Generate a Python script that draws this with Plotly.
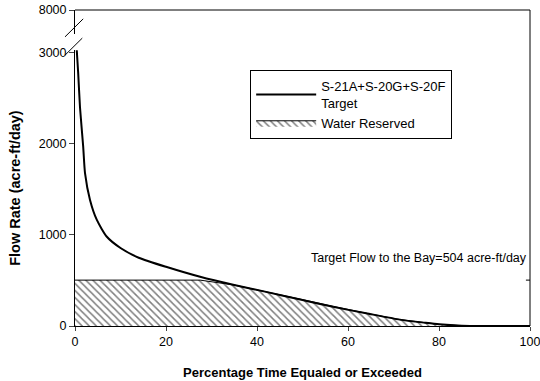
import plotly.graph_objects as go

# Flow duration curve for the combined S-21A + S-20G + S-20F target flow
pct_time = [0, 0.3, 0.7, 1.1, 1.8, 2.2, 3.3, 4.8, 7, 10, 14, 20, 27.5, 35, 42,
            49.5, 56.7, 64, 71.4, 77, 80, 85, 90, 100]
flow = [3400, 3100, 2780, 2400, 1970, 1680, 1385, 1165, 980, 857, 750, 650, 540,
        450, 375, 290, 210, 140, 70, 35, 18, 3, 0, 0]

TARGET = 504  # acre-ft/day target flow to the bay
reserved = [min(v, TARGET) for v in flow]

x_ticks = [0, 20, 40, 60, 80, 100]
y_ticks_low = [0, 1000, 2000, 3000]
y_ticks_high = [8000]

FONT = "Liberation Sans, Arial, sans-serif"

fig = go.Figure()

fig.add_trace(go.Scatter(
    x=pct_time, y=reserved, mode="lines", name="Water Reserved",
    line=dict(color="black", width=1),
    fill="tozeroy", fillcolor="white",
    fillpattern=dict(shape="\\", fgcolor="black", bgcolor="white",
                     size=5, solidity=0.3),
    legendrank=2,
))

fig.add_trace(go.Scatter(
    x=pct_time, y=flow, mode="lines", name="S-21A+S-20G+S-20F<br>Target",
    line=dict(color="black", width=2, shape="spline", smoothing=0.6),
    legendrank=1,
))

# Upper segment of the broken axis (only carries the 8000 label)
fig.add_trace(go.Scatter(
    x=[0], y=[8000], yaxis="y2", mode="markers",
    marker=dict(size=0.1, color="rgba(0,0,0,0)"), showlegend=False,
    hoverinfo="skip",
))

fig.add_annotation(
    x=99.8, y=750, xref="x", yref="y", xanchor="right", yanchor="middle",
    text=f"Target Flow to the Bay={TARGET} acre-ft/day", showarrow=False,
    font=dict(family=FONT, size=12.5, color="black"),
)

shapes = [
    # top frame line at the 8000 level
    dict(type="line", xref="paper", yref="paper", x0=0, x1=1, y0=1, y1=1,
         line=dict(color="black", width=1)),
    # right frame line
    dict(type="line", xref="paper", yref="paper", x0=1, x1=1, y0=0, y1=1,
         line=dict(color="black", width=1)),
    # tick on the right frame marking the target flow
    dict(type="line", xref="x", yref="y", x0=99.1, x1=100, y0=TARGET, y1=TARGET,
         line=dict(color="black", width=1)),
    # axis break marks
    dict(type="line", xref="paper", yref="paper", x0=-0.022, x1=0.018,
         y0=0.915, y1=0.972, line=dict(color="black", width=1)),
    dict(type="line", xref="paper", yref="paper", x0=-0.022, x1=0.016,
         y0=0.857, y1=0.911, line=dict(color="black", width=1)),
]

axis_font = dict(family=FONT, size=12.5, color="black")

fig.update_layout(
    width=540, height=381,
    margin=dict(l=75, r=10, t=10, b=55),
    paper_bgcolor="white", plot_bgcolor="white",
    font=dict(family=FONT, color="black"),
    showlegend=True,
    legend=dict(
        x=0.385, y=0.81, xanchor="left", yanchor="top",
        bgcolor="white", bordercolor="black", borderwidth=1,
        font=dict(family=FONT, size=13, color="black"),
        traceorder="normal", tracegroupgap=2, itemwidth=60,
    ),
    xaxis=dict(
        range=[0, 100], tickvals=x_ticks, ticks="outside", ticklen=4,
        showline=True, linecolor="black", linewidth=1, showgrid=False,
        zeroline=False, tickfont=axis_font, anchor="y", automargin=False,
        ticklabeloverflow="allow",
        title=dict(text="<b>Percentage Time Equaled or Exceeded</b>",
                   font=dict(family=FONT, size=13, color="black"), standoff=19),
    ),
    yaxis=dict(
        domain=[0, 0.873], range=[0, 3030], tickvals=y_ticks_low,
        ticks="outside", ticklen=5, showline=True, linecolor="black",
        linewidth=1, showgrid=False, zeroline=False, tickfont=axis_font,
        automargin=False,
        title=dict(text="<b>Flow Rate (acre-ft/day)</b>",
                   font=dict(family=FONT, size=14.5, color="black"), standoff=14),
    ),
    yaxis2=dict(
        domain=[0.925, 1], range=[7000, 8000], tickvals=y_ticks_high,
        ticks="outside", ticklen=5, showline=True, linecolor="black",
        linewidth=1, showgrid=False, zeroline=False, tickfont=axis_font,
        anchor="x", automargin=False, ticklabeloverflow="allow",
    ),
    shapes=shapes,
)

fig.write_html("out.html")
